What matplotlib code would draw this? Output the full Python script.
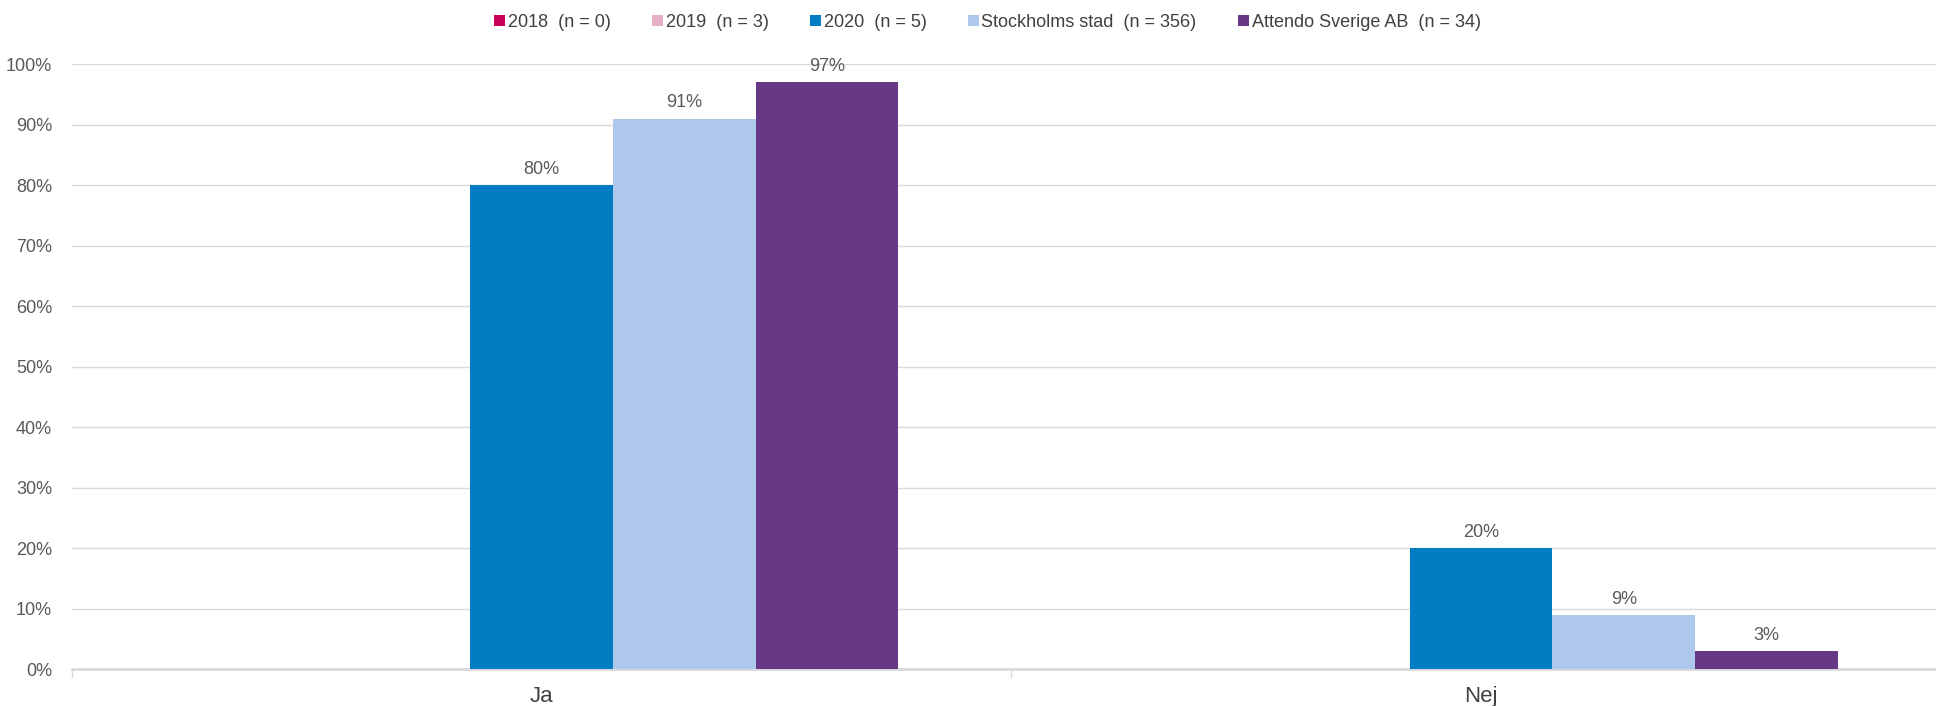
import numpy as np
import matplotlib
matplotlib.use("Agg")
import matplotlib.pyplot as plt
from matplotlib.patches import Patch

plt.rcParams["font.family"] = ["Liberation Sans", "DejaVu Sans"]

# ---------- Data ----------
categories = ["Ja", "Nej"]
series_names = ["2018  (n = 0)", "2019  (n = 3)", "2020  (n = 5)",
                "Stockholms stad  (n = 356)", "Attendo Sverige AB  (n = 34)"]
vals_2018 = [np.nan, np.nan]
vals_2019 = [np.nan, np.nan]
vals_2020 = [80, 20]
vals_sthlm = [91, 9]
vals_attendo = [97, 3]
series_values = [vals_2018, vals_2019, vals_2020, vals_sthlm, vals_attendo]
colors = ["#C8005A", "#E6B0C6", "#007DC3", "#ADC8EB", "#673886"]

TICK_COLOR = "#595959"
TEXT_COLOR = "#404040"
GRID_COLOR = "#D9D9D9"

fig = plt.figure(figsize=(19.36, 7.06), dpi=100)
# axes runs slightly past the right edge, like the original export
ax = fig.add_axes([0.037, 0.052, 0.9706, 0.857])

x = np.arange(len(categories))
n = len(series_values)
bw = 0.152
for i, (vals, col) in enumerate(zip(series_values, colors)):
    offs = (i - (n - 1) / 2) * bw
    v = np.array(vals, dtype=float)
    ax.bar(x + offs, np.nan_to_num(v), width=bw, color=col, zorder=3)
    for xi, vi in zip(x + offs, v):
        if not np.isnan(vi):
            ax.text(xi, vi + 1.2, f"{vi:.0f}%", ha="center", va="bottom",
                    fontsize=13, color=TICK_COLOR)

ax.set_xlim(-0.5, 1.5)
ax.set_ylim(0, 100)
ax.set_yticks(np.arange(0, 101, 10))
ax.set_yticklabels([f"{t}%" for t in range(0, 101, 10)], fontsize=13, color=TICK_COLOR)
ax.yaxis.grid(True, color=GRID_COLOR, lw=1, zorder=0)
ax.tick_params(axis="y", length=0, pad=14)

ax.set_xticks(x)
ax.set_xticklabels(categories, fontsize=16, color=TEXT_COLOR)
ax.tick_params(axis="x", length=0, pad=12)
# small separator ticks below the axis
for xs in [-0.5, 0.5, 1.5]:
    ax.plot([xs, xs], [0, -1.2], color=GRID_COLOR, lw=1, clip_on=False, zorder=2)

for s in ["top", "right", "left"]:
    ax.spines[s].set_visible(False)
ax.spines["bottom"].set_color(GRID_COLOR)
ax.spines["bottom"].set_linewidth(2)

handles = [Patch(facecolor=c, edgecolor="none") for c in colors]
fig.legend(handles, series_names, loc="center", bbox_to_anchor=(0.51, 0.968),
           ncol=5, frameon=False, fontsize=13, handlelength=0.6, handleheight=0.6,
           handletextpad=0.15, columnspacing=2.3, labelcolor=TEXT_COLOR)

fig.savefig("out.png", dpi=100)
